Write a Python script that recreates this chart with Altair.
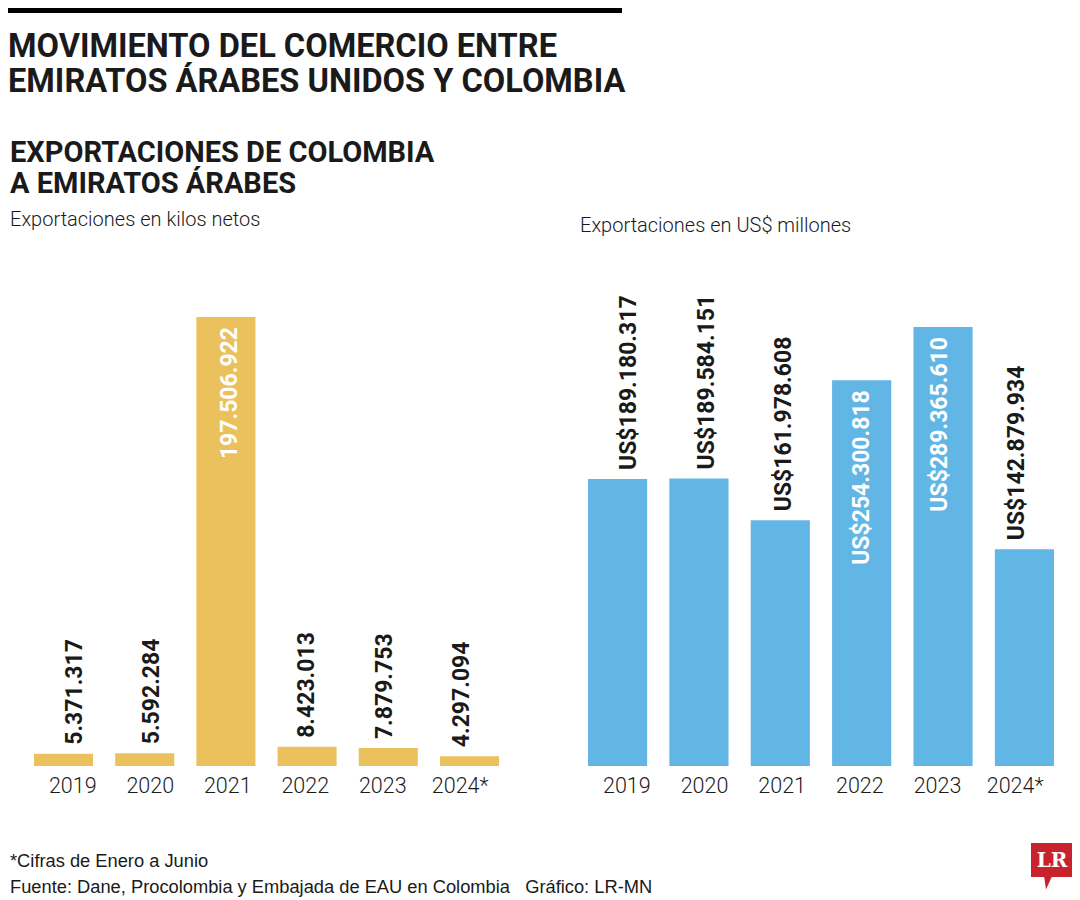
import altair as alt
import pandas as pd

# ---- data ----
years = ["2019", "2020", "2021", "2022", "2023", "2024*"]
kilos = [5371317, 5592284, 197506922, 8423013, 7879753, 4297094]
kilos_text = ["5.371.317", "5.592.284", "197.506.922", "8.423.013", "7.879.753", "4.297.094"]
kilos_inside = [False, False, True, False, False, False]
usd = [189180317, 189584151, 161978608, 254300818, 289365610, 142879934]
usd_text = ["US$189.180.317", "US$189.584.151", "US$161.978.608",
            "US$254.300.818", "US$289.365.610", "US$142.879.934"]
usd_inside = [False, False, False, True, True, False]

df_k = pd.DataFrame({"year": years, "value": kilos, "label": kilos_text, "inside": kilos_inside})
df_u = pd.DataFrame({"year": years, "value": usd, "label": usd_text, "inside": usd_inside})

W, H = 1064, 892
INK = "#1a1a1a"
LBL = "Roboto"


def panel(df, color, xr, yr):
    x = alt.X("year:N", sort=years, axis=None,
              scale=alt.Scale(domain=years, range=xr, paddingInner=0.273, paddingOuter=0))
    y = alt.Y("value:Q", axis=None,
              scale=alt.Scale(domain=[0, float(df["value"].max())], range=yr))
    base = alt.Chart(df)
    bars = base.mark_bar(color=color).encode(x=x, y=y)
    out = base.transform_filter("!datum.inside").mark_text(
        angle=270, align="left", baseline="middle", dx=9, dy=2, font=LBL,
        fontSize=23, fontWeight="bold", color=INK).encode(x=x, y=y, text="label:N")
    inn = base.transform_filter("datum.inside").mark_text(
        angle=270, align="right", baseline="middle", dx=-10, dy=2, font=LBL,
        fontSize=23, fontWeight="bold", color="white").encode(x=x, y=y, text="label:N")
    yrs = base.mark_text(baseline="middle", font=LBL, fontSize=21.5, fontWeight=300,
                         color="#1a1a1a").encode(x=x, y=alt.value(779), text="year:N")
    return [bars, out, inn, yrs]


def txt(s, x, y, size, font, weight="normal", color=INK, align="left", baseline="alphabetic"):
    return alt.Chart(pd.DataFrame({"t": [s]})).mark_text(
        align=align, baseline=baseline, font=font, fontSize=size, fontWeight=weight,
        color=color).encode(text="t:N", x=alt.value(x), y=alt.value(y))


one = pd.DataFrame({"a": [0]})
topbar = alt.Chart(one).mark_rect(color="black").encode(
    x=alt.value(0), x2=alt.value(614), y=alt.value(0), y2=alt.value(5))

logo_box = alt.Chart(one).mark_rect(color="#C8232C").encode(
    x=alt.value(1023), x2=alt.value(1064), y=alt.value(835), y2=alt.value(869))
logo_tail = alt.Chart(one).mark_point(
    shape="M -0.6 -1 L 0.6 -1 L -0.3 1 Z", size=169, filled=True, opacity=1,
    color="#C8232C").encode(x=alt.value(1040), y=alt.value(875))
logo_txt = txt("LR", 1044, 853, 20, "DejaVu Serif", "bold", "white", "center", "middle")

layers = [topbar]
layers += panel(df_k, "#EAC15C", [26, 491], [758, 309])
layers += panel(df_u, "#62B6E6", [580, 1046], [758, 319])
layers += [
    txt("MOVIMIENTO DEL COMERCIO ENTRE", 0, 49, 32.6, "Roboto", "bold"),
    txt("EMIRATOS ÁRABES UNIDOS Y COLOMBIA", 0, 84, 32.6, "Roboto", "bold"),
    txt("EXPORTACIONES DE COLOMBIA", 2, 154, 29, "Roboto", "bold"),
    txt("A EMIRATOS ÁRABES", 2, 185, 29, "Roboto", "bold"),
    txt("Exportaciones en kilos netos", 2, 218, 20, "Roboto", 300),
    txt("Exportaciones en US$ millones", 572, 224, 20, "Roboto", 300),
    txt("*Cifras de Enero a Junio", 2, 859, 18.3, "Liberation Sans"),
    txt("Fuente: Dane, Procolombia y Embajada de EAU en Colombia\u00a0\u00a0\u00a0Gráfico: LR-MN",
        2, 885, 18.3, "Liberation Sans"),
    logo_box, logo_tail, logo_txt,
]

chart = alt.layer(*layers).resolve_scale(x="independent", y="independent").properties(
    width=W, height=H, autosize=alt.AutoSizeParams(type="none"), padding=0,
    background="white"
).configure_view(strokeWidth=0)

chart.save("out.html", embed_options={"renderer": "svg", "actions": False})
